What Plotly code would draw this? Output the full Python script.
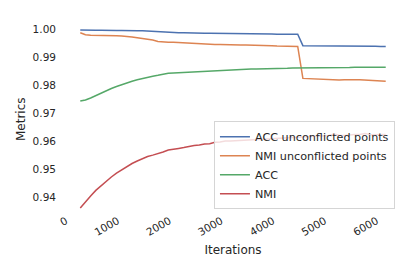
import plotly.graph_objects as go

iterations = list(range(200, 6200, 100))

acc_unconflicted = [
    0.9998, 0.9997, 0.9997, 0.9997, 0.9997, 0.9996, 0.9996, 0.9996, 0.9996, 0.9995,
    0.9995, 0.9995, 0.9995, 0.9994, 0.9993, 0.9991, 0.9989, 0.9988, 0.9988, 0.9988,
    0.9988, 0.9987, 0.9987, 0.9987, 0.9986, 0.9986, 0.9986, 0.9985, 0.9985, 0.9985,
    0.9985, 0.9984, 0.9984, 0.9984, 0.9984, 0.9984, 0.9984, 0.9984, 0.9983, 0.9983,
    0.9983, 0.9983, 0.9983, 0.9942, 0.9942, 0.9942, 0.9942, 0.9942, 0.9941, 0.9941,
    0.9941, 0.9941, 0.9941, 0.9941, 0.9941, 0.9940, 0.9940, 0.9940, 0.9939, 0.9939,
]

nmi_unconflicted = [
    0.9988, 0.9981, 0.9979, 0.9979, 0.9979, 0.9978, 0.9978, 0.9977, 0.9976, 0.9975,
    0.9973, 0.9970, 0.9968, 0.9966, 0.9962, 0.9957, 0.9955, 0.9954, 0.9954, 0.9953,
    0.9952, 0.9950, 0.9948, 0.9948, 0.9947, 0.9947, 0.9946, 0.9946, 0.9945, 0.9945,
    0.9944, 0.9944, 0.9944, 0.9944, 0.9943, 0.9943, 0.9942, 0.9942, 0.9941, 0.9941,
    0.9940, 0.9940, 0.9939, 0.9825, 0.9824, 0.9824, 0.9823, 0.9822, 0.9821, 0.9820,
    0.9819, 0.9820, 0.9821, 0.9820, 0.9820, 0.9819, 0.9818, 0.9817, 0.9816, 0.9815,
]

acc = [
    0.9744, 0.9748, 0.9755, 0.9764, 0.9773, 0.9781, 0.9789, 0.9796, 0.9803, 0.9809,
    0.9815, 0.9820, 0.9825, 0.9829, 0.9833, 0.9836, 0.9840, 0.9843, 0.9844, 0.9845,
    0.9847, 0.9848, 0.9849, 0.9850, 0.9851, 0.9852, 0.9854, 0.9855, 0.9856, 0.9857,
    0.9857, 0.9858, 0.9858, 0.9859, 0.9859, 0.9859, 0.9860, 0.9860, 0.9860, 0.9861,
    0.9861, 0.9862, 0.9862, 0.9862, 0.9863, 0.9863, 0.9864, 0.9863, 0.9864, 0.9864,
    0.9863, 0.9864, 0.9864, 0.9865, 0.9865, 0.9866, 0.9865, 0.9865, 0.9865, 0.9865,
]

nmi = [
    0.9362, 0.9385, 0.9405, 0.9425, 0.9442, 0.9458, 0.9473, 0.9487, 0.9499, 0.9511,
    0.9521, 0.9530, 0.9538, 0.9546, 0.9551, 0.9556, 0.9562, 0.9569, 0.9573, 0.9575,
    0.9578, 0.9582, 0.9585, 0.9587, 0.9591, 0.9592, 0.9597, 0.9598, 0.9601, 0.9601,
    0.9602, 0.9603, 0.9603, 0.9605, 0.9605, 0.9607, 0.9608, 0.9608, 0.9609, 0.9610,
    0.9611, 0.9612, 0.9613, 0.9614, 0.9615, 0.9617, 0.9619, 0.9618, 0.9621, 0.9626,
    0.9622, 0.9621, 0.9624, 0.9625, 0.9625, 0.9628, 0.9624, 0.9624, 0.9625, 0.9625,
]

series_names = ["ACC unconflicted points", "NMI unconflicted points", "ACC", "NMI"]
series_values = [acc_unconflicted, nmi_unconflicted, acc, nmi]
colors = ["#4C72B0", "#DD8452", "#55A868", "#C44E52"]

x_ticks = [0, 1000, 2000, 3000, 4000, 5000, 6000]
y_ticks = [0.94, 0.95, 0.96, 0.97, 0.98, 0.99, 1.00]

fig = go.Figure()
for name, vals, col in zip(series_names, series_values, colors):
    fig.add_trace(go.Scatter(x=iterations, y=vals, mode="lines", name=name,
                             line=dict(color=col, width=1.5)))

text_color = "#262626"
fig.update_layout(
    width=406, height=265,
    margin=dict(l=57, r=13, t=13, b=56),
    paper_bgcolor="white", plot_bgcolor="white",
    font=dict(family="DejaVu Sans", size=10.5, color=text_color),
    showlegend=True,
    legend=dict(x=0.982, xanchor="right", y=0.04, yanchor="bottom",
                bgcolor="rgba(255,255,255,0.8)", bordercolor="#d5d5d5", borderwidth=1,
                font=dict(size=11.2, color=text_color), tracegroupgap=0),
    xaxis=dict(range=[-95, 6395], tickvals=x_ticks, ticktext=[str(v) for v in x_ticks],
               tickangle=-30, showgrid=False, zeroline=False, showline=False, ticks="",
               ticklabelstandoff=-5, ticklabelshift=-4, automargin=False,
               tickfont=dict(size=10.5), title=dict(text="Iterations", font=dict(size=12), standoff=8)),
    yaxis=dict(range=[0.9330, 1.0030], tickvals=y_ticks, ticktext=["%.2f" % v for v in y_ticks],
               showgrid=False, zeroline=False, showline=False, ticks="", ticklabelstandoff=8,
               automargin=False, tickfont=dict(size=10.5)),
    annotations=[dict(text="Metrics", xref="paper", yref="paper", x=0, y=0.5,
                      xanchor="center", yanchor="middle", xshift=-44, textangle=-90,
                      showarrow=False, font=dict(size=12, color=text_color))],
)

fig.write_html("out.html")
